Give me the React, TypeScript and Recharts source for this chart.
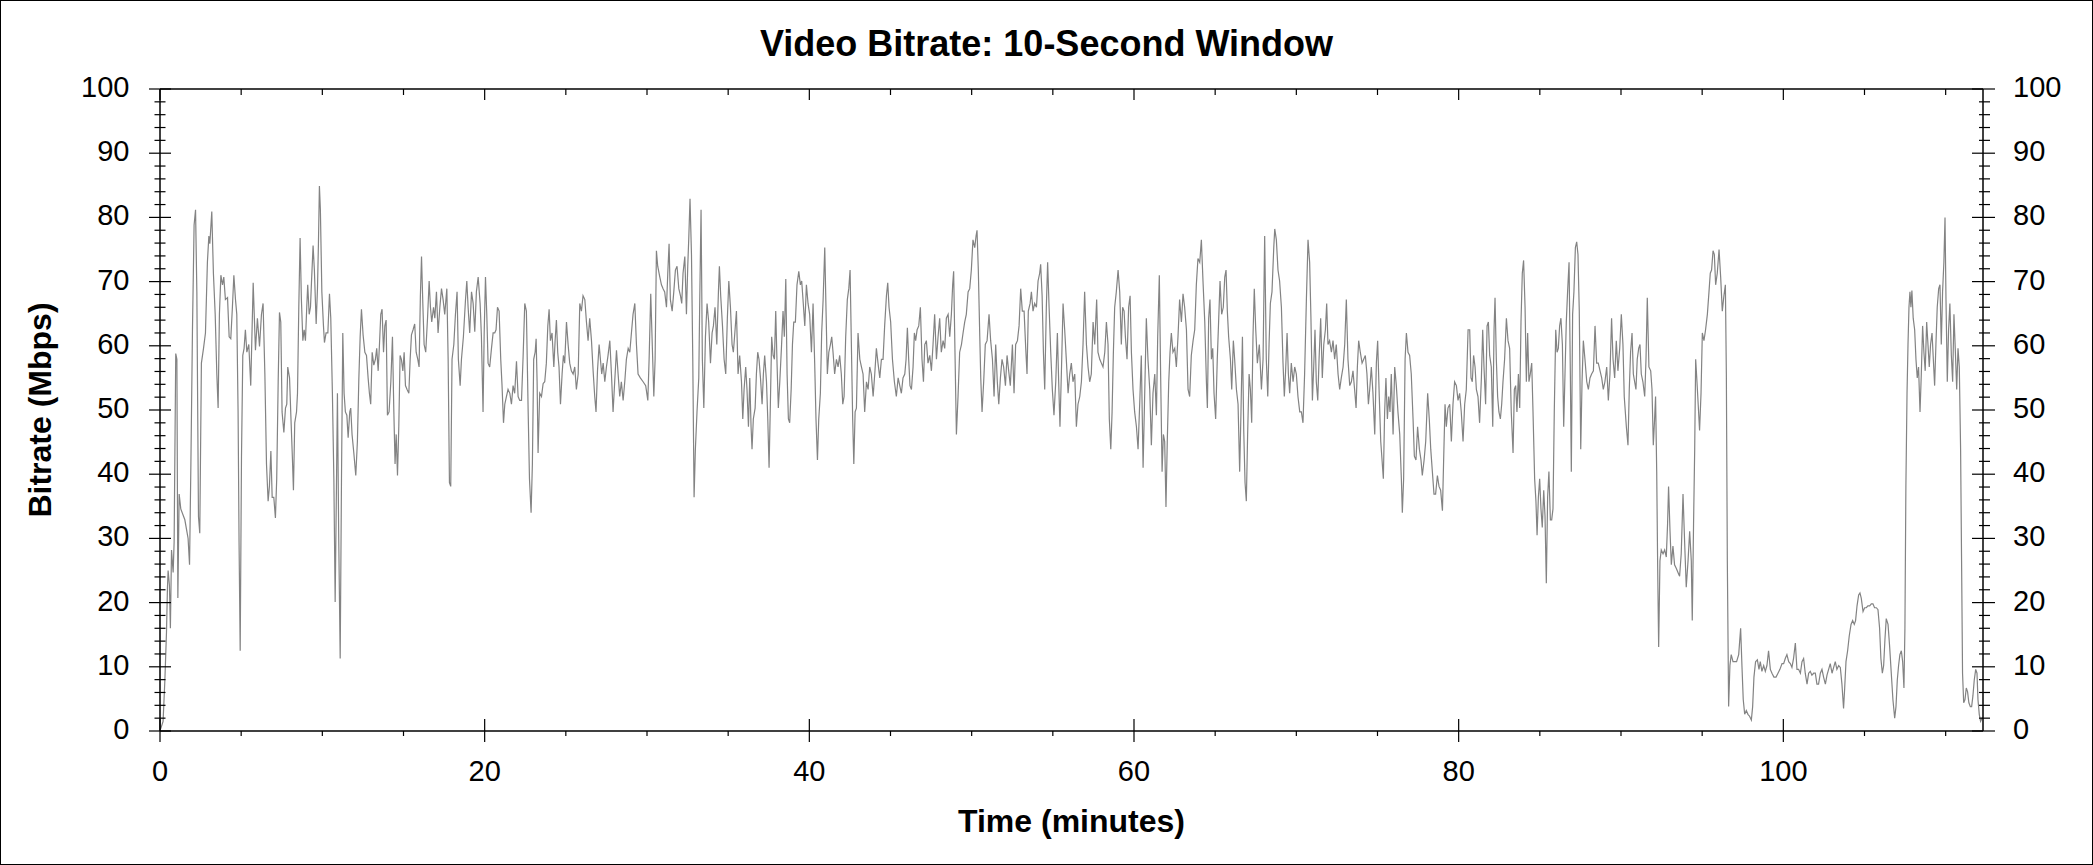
import React from 'react';
import { LineChart, Line, XAxis, YAxis } from 'recharts';

const X_TICKS = [0, 5, 10, 15, 20, 25, 30, 35, 40, 45, 50, 55, 60, 65, 70, 75, 80, 85, 90, 95, 100, 105, 110];
const Y_TICKS = [0, 2, 4, 6, 8, 10, 12, 14, 16, 18, 20, 22, 24, 26, 28, 30, 32, 34, 36, 38, 40, 42, 44, 46, 48, 50, 52, 54, 56, 58, 60, 62, 64, 66, 68, 70, 72, 74, 76, 78, 80, 82, 84, 86, 88, 90, 92, 94, 96, 98, 100];
const X_MAX = 112.3;

type Pt = [number, number]; // [minutes, Mbps]

const segA: Pt[] = [
  [0, 0.3], [0.05, 0.4], [0.19, 1.5], [0.3, 7.9], [0.4, 15.4], [0.46, 22.4], [0.5, 25], [0.58, 22.7], [0.64, 16], [0.71, 28.2],
  [0.81, 24.7], [0.87, 29.4], [0.97, 58.8], [1.04, 57.9], [1.1, 20.7], [1.18, 36.9], [1.28, 34.6], [1.53, 32.9], [1.73, 30], [1.82, 25.9],
  [1.9, 41], [2.0, 62.5], [2.1, 78.8], [2.19, 81.2], [2.27, 68.4], [2.37, 33.4], [2.45, 30.8], [2.55, 57.3], [2.68, 59.6], [2.8, 62],
  [2.92, 73], [3.01, 77.1], [3.07, 75.9], [3.19, 80.9], [3.29, 71.3], [3.4, 64.9], [3.5, 55.6], [3.58, 50.3], [3.66, 64.9], [3.75, 71],
  [3.85, 69.5], [3.93, 70.7], [4.03, 67.2], [4.16, 67.5], [4.26, 61.4], [4.36, 61.1], [4.46, 66], [4.55, 71], [4.65, 67.2], [4.73, 64.9],
  [4.81, 49.7], [4.87, 29.4], [4.94, 12.5], [5.02, 42.8], [5.1, 58.5], [5.18, 59.6], [5.26, 62.5], [5.35, 59], [5.47, 60.2], [5.59, 53.8],
  [5.74, 69.8], [5.88, 59.3], [6.0, 64.3], [6.13, 59.9], [6.25, 64.9], [6.35, 66.6], [6.46, 55.6], [6.56, 41.6], [6.66, 35.8], [6.74, 38.1],
  [6.83, 43.6], [6.91, 36.4], [7.01, 36.4], [7.11, 33.2], [7.19, 39.3], [7.28, 54.4], [7.36, 65.2], [7.44, 63.7], [7.52, 49.7], [7.63, 46.5],
  [7.73, 50.3], [7.81, 50.9], [7.87, 56.7], [7.98, 55], [8.06, 49.2], [8.16, 42.2], [8.22, 37.5], [8.3, 48], [8.41, 49.7], [8.47, 52.6],
  [8.55, 66], [8.63, 76.8], [8.71, 67.2], [8.8, 60.8], [8.88, 62.5], [8.96, 60.8], [9.04, 66], [9.1, 69.5], [9.19, 64.9], [9.27, 66],
  [9.33, 69.8], [9.43, 75.6], [9.51, 71.8], [9.62, 63.4], [9.7, 68.9], [9.76, 75.9], [9.82, 84.9], [9.88, 81.2], [9.97, 68.4], [10.07, 63.1],
  [10.13, 60.5], [10.23, 62], [10.34, 62], [10.44, 68.1], [10.52, 64.3], [10.62, 52.6], [10.71, 39.3], [10.79, 20.1], [10.87, 38.1], [10.93, 52.6],
  [11.01, 30], [11.1, 11.3], [11.18, 39.3], [11.26, 62], [11.34, 52.6], [11.42, 49.7], [11.51, 49.2], [11.59, 45.7], [11.69, 49.7], [11.75, 50.3],
  [11.83, 46.2], [11.94, 43.3], [12.06, 39.8], [12.16, 45.1], [12.25, 55], [12.33, 61.4], [12.41, 65.7], [12.51, 61.7], [12.62, 59], [12.72, 58.5],
  [12.82, 55], [12.9, 52.6], [12.98, 50.9], [13.07, 59], [13.17, 57], [13.27, 57.9], [13.35, 59.6], [13.44, 56.1], [13.52, 60.2], [13.6, 64.9],
  [13.68, 65.7], [13.77, 59], [13.85, 63.1], [13.93, 64], [14.01, 49.2], [14.11, 49.7], [14.22, 54.4], [14.32, 61.4], [14.4, 50.3], [14.48, 41.6],
  [14.55, 46.2], [14.63, 39.8], [14.71, 47.4], [14.79, 58.5], [14.87, 57.9], [14.96, 56.1], [15.04, 59], [15.12, 53.8], [15.22, 53.2], [15.33, 52.6],
  [15.41, 57.9], [15.49, 61.7], [15.59, 62.5], [15.69, 63.4], [15.78, 59], [15.88, 57.9], [15.96, 56.7], [16.04, 67.8], [16.11, 73.9], [16.19, 66.6],
  [16.27, 60.2], [16.37, 59], [16.48, 64.3], [16.58, 70.1], [16.66, 66], [16.74, 63.7], [16.85, 66], [16.93, 64.3], [17.03, 68.4], [17.13, 62],
  [17.24, 66], [17.34, 68.9], [17.44, 67.2], [17.54, 64.9], [17.67, 68.9], [17.75, 57.9], [17.83, 38.7], [17.91, 38.1], [17.99, 57.9], [18.1, 60.2],
  [18.2, 64.9], [18.3, 68.4], [18.38, 57.9], [18.49, 53.8], [18.57, 57.9], [18.69, 61.4], [18.82, 67.2], [18.9, 70.1], [18.98, 66], [19.08, 62],
  [19.19, 68.4], [19.29, 66.6], [19.39, 62.2], [19.49, 68.4], [19.6, 70.7], [19.72, 66.6], [19.8, 61.4], [19.9, 49.7], [19.97, 62], [20.05, 70.7],
  [20.13, 64.9], [20.21, 57.3], [20.31, 56.7], [20.42, 59.6], [20.52, 62], [20.62, 62], [20.7, 62.5], [20.79, 66], [20.89, 65.4], [20.99, 57.9],
  [21.07, 53.8], [21.16, 48], [21.24, 50.9], [21.34, 52.1], [21.44, 53.2], [21.55, 52.6], [21.65, 50.9], [21.75, 53.8], [21.85, 52.6], [21.96, 57.6],
  [22.06, 52.1], [22.16, 51.5], [22.27, 51.5], [22.37, 58.5], [22.47, 66.6], [22.57, 65.4], [22.68, 49.7], [22.76, 39.3],
];

const segB: Pt[] = [
  [22.86, 34], [22.94, 41.6], [23.02, 57.9], [23.11, 59], [23.17, 61.1], [23.23, 54.4], [23.29, 43.3], [23.39, 52.6], [23.5, 52.1], [23.6, 54.1],
  [23.7, 54.4], [23.8, 57.3], [23.89, 63.1], [23.97, 65.7], [24.05, 60.8], [24.15, 62], [24.26, 56.7], [24.34, 60.8], [24.42, 64], [24.5, 59],
  [24.58, 56.7], [24.67, 50.9], [24.77, 55.6], [24.85, 58.5], [24.93, 57.3], [25.04, 63.7], [25.14, 60.2], [25.24, 57.3], [25.34, 56.1], [25.45, 55.6],
  [25.55, 56.7], [25.65, 53.2], [25.76, 55.6], [25.86, 66.6], [25.96, 65.4], [26.06, 67.8], [26.17, 67.2], [26.27, 63.7], [26.37, 60.8], [26.47, 64.3],
  [26.58, 60.8], [26.68, 56.1], [26.78, 52.1], [26.86, 49.7], [26.95, 56.1], [27.05, 60.2], [27.13, 57.9], [27.21, 55.6], [27.3, 57.3], [27.4, 54.4],
  [27.5, 56.7], [27.6, 58.5], [27.71, 60.8], [27.81, 55.6], [27.91, 49.7], [28.01, 54.4], [28.12, 59.3], [28.22, 55.6], [28.32, 52.1], [28.42, 54.4],
  [28.53, 51.5], [28.63, 54.4], [28.73, 57.9], [28.84, 59.6], [28.94, 59], [29.04, 62], [29.14, 64.9], [29.25, 66.6], [29.35, 60.2], [29.45, 55.6],
  [29.59, 55], [29.76, 54.4], [29.92, 53.8], [30.05, 51.5], [30.13, 57.9], [30.23, 68.1], [30.31, 61.4], [30.42, 52.1], [30.5, 57.9], [30.58, 74.8],
  [30.66, 72.4], [30.79, 70.7], [30.89, 69.5], [30.99, 68.9], [31.09, 68.4], [31.2, 66], [31.28, 71.3], [31.36, 75.9], [31.44, 67.2], [31.55, 65.4],
  [31.65, 68.4], [31.75, 71.8], [31.85, 72.4], [31.96, 68.9], [32.06, 67.8], [32.14, 66.6], [32.22, 71.3], [32.33, 73.9], [32.43, 64.9], [32.51, 72.4],
  [32.57, 76.5], [32.65, 82.9], [32.74, 74.2], [32.82, 57.9], [32.9, 36.4], [32.98, 43.9], [33.08, 49.7], [33.19, 55], [33.25, 67.2], [33.33, 81.2],
  [33.41, 57.9], [33.5, 50.3], [33.6, 61.4], [33.7, 66.6], [33.8, 63.7], [33.91, 57.3], [34.01, 62], [34.09, 63.1], [34.19, 66], [34.3, 60.2],
  [34.4, 68.4], [34.46, 72.4], [34.54, 67.8], [34.65, 63.1], [34.75, 57.9], [34.85, 55.6], [34.95, 64.3], [35.04, 70.1], [35.14, 66], [35.24, 60.2],
  [35.32, 59], [35.41, 62], [35.51, 65.4], [35.61, 55.6], [35.71, 58.5], [35.82, 54.4], [35.9, 48.6], [35.98, 53.2], [36.08, 56.7], [36.16, 53.2],
  [36.25, 47.4], [36.33, 55], [36.41, 47.4], [36.47, 43.9], [36.55, 48.6], [36.66, 50.3], [36.74, 55.6], [36.82, 59], [36.9, 57.9], [36.99, 55],
  [37.09, 50.9], [37.17, 55.6], [37.25, 58.5], [37.36, 54.4], [37.44, 48.6], [37.52, 41], [37.6, 50.9], [37.68, 61.4], [37.77, 58.5], [37.85, 57.9],
  [37.93, 65.4], [38.01, 57.3], [38.09, 50.3], [38.18, 54.4], [38.28, 59.6], [38.38, 65.4], [38.46, 61.4], [38.55, 70.4], [38.63, 55.6], [38.71, 48.6],
  [38.79, 48], [38.88, 53.2], [38.96, 60.2], [39.04, 63.7], [39.14, 63.7], [39.24, 69.5], [39.35, 71.6], [39.45, 69.5], [39.53, 70.1], [39.61, 67.2],
  [39.72, 63.1], [39.82, 69.5], [39.92, 66.6], [40.02, 64.9], [40.13, 59], [40.23, 66.6], [40.33, 57.3], [40.41, 48.6], [40.5, 42.2], [40.58, 48.6],
  [40.68, 52.6], [40.76, 62], [40.85, 67.2], [40.95, 75.3], [41.03, 65.4], [41.11, 55.6], [41.2, 59], [41.3, 60.2], [41.38, 61.4], [41.46, 59],
  [41.56, 55.6], [41.67, 57.9], [41.77, 56.7], [41.87, 58.5], [41.97, 55.6], [42.06, 50.9], [42.14, 52.1], [42.24, 61.4], [42.34, 67.2], [42.43, 68.9],
  [42.51, 71.8], [42.59, 60.2], [42.67, 48.6], [42.74, 41.6], [42.82, 49.7], [42.9, 50.3], [43.0, 62], [43.11, 57.9], [43.21, 56.7], [43.31, 55.6],
  [43.41, 49.7], [43.52, 54.4], [43.62, 53.2], [43.72, 56.7], [43.82, 55.6], [43.93, 52.1], [44.03, 55.6], [44.13, 59.6], [44.23, 57.3], [44.34, 55],
  [44.44, 57.9], [44.54, 57.9], [44.64, 63.1], [44.75, 67.8], [44.83, 69.8], [44.91, 66], [45.01, 63.7], [45.12, 57.9], [45.24, 54.4],
];

const segC: Pt[] = [
  [45.36, 52.1], [45.47, 55], [45.57, 53.8], [45.67, 52.6], [45.77, 55], [45.88, 55.6], [45.96, 57.9], [46.04, 62.8], [46.12, 57.9], [46.2, 53.8],
  [46.29, 53.2], [46.39, 56.7], [46.47, 62], [46.55, 60.8], [46.64, 62.5], [46.74, 63.1], [46.84, 66], [46.94, 57.9], [47.03, 54.4], [47.11, 60.2],
  [47.21, 60.8], [47.31, 57.3], [47.42, 58.5], [47.52, 56.1], [47.62, 60.2], [47.72, 64.9], [47.83, 57.9], [47.93, 61.4], [48.03, 64.3], [48.13, 59],
  [48.24, 60.8], [48.34, 59.6], [48.44, 64.3], [48.55, 64.9], [48.65, 61.4], [48.75, 64.9], [48.83, 69.5], [48.89, 71.6], [48.98, 57.9], [49.06, 46.2],
  [49.16, 52.1], [49.26, 59], [49.37, 60.2], [49.47, 62], [49.57, 63.7], [49.67, 64.9], [49.78, 68.4], [49.88, 68.9], [49.98, 71.8], [50.08, 76.5],
  [50.19, 75.3], [50.27, 77.1], [50.33, 78], [50.41, 71.8], [50.5, 61.4], [50.56, 55], [50.64, 49.7], [50.74, 54.4], [50.84, 60.2], [50.95, 60.8],
  [51.07, 64.9], [51.17, 60.8], [51.28, 57.9], [51.38, 52.1], [51.48, 60.2], [51.58, 54.4], [51.67, 50.9], [51.77, 55], [51.87, 57.9], [51.97, 56.7],
  [52.08, 53.8], [52.18, 58.5], [52.28, 56.1], [52.38, 53.8], [52.51, 60.2], [52.61, 52.6], [52.71, 60.2], [52.82, 60.8], [52.92, 63.1], [53.02, 68.9],
  [53.12, 65.4], [53.23, 65.4], [53.33, 59.6], [53.41, 55.6], [53.49, 65.4], [53.6, 66.6], [53.68, 68.4], [53.78, 65.4], [53.88, 66.6], [53.99, 66],
  [54.09, 70.1], [54.19, 71.3], [54.25, 72.7], [54.34, 67.8], [54.42, 59], [54.5, 53.2], [54.6, 66], [54.68, 73], [54.77, 66], [54.87, 59],
  [54.97, 53.2], [55.07, 49.2], [55.18, 54.4], [55.28, 62], [55.36, 54.4], [55.44, 47.4], [55.53, 56.1], [55.63, 66.6], [55.73, 62.5], [55.83, 57.9],
  [55.94, 52.6], [56.04, 55.6], [56.14, 57.3], [56.24, 54.4], [56.35, 55.6], [56.45, 47.4], [56.55, 50.9], [56.66, 52.1], [56.76, 54.4], [56.86, 60.2],
  [56.96, 68.4], [57.07, 60.2], [57.17, 56.7], [57.27, 54.4], [57.37, 55.6], [57.48, 63.7], [57.58, 60.2], [57.7, 67.2], [57.78, 59], [57.89, 57.9],
  [57.99, 57.3], [58.09, 56.7], [58.2, 59], [58.3, 63.7], [58.4, 60.2], [58.48, 48.6], [58.57, 43.9], [58.65, 49.7], [58.73, 59], [58.81, 66],
  [58.91, 68.4], [59.02, 71.8], [59.12, 68.4], [59.22, 60.2], [59.3, 66], [59.39, 65.4], [59.47, 61.4], [59.57, 57.9], [59.67, 66], [59.76, 67.8],
  [59.84, 59], [59.94, 53.2], [60.04, 49.7], [60.15, 47.4], [60.25, 43.9], [60.35, 50.9], [60.45, 58.5], [60.56, 41], [60.66, 52.6], [60.76, 64.3],
  [60.86, 57.9], [60.97, 53.2], [61.07, 44.5], [61.17, 52.6], [61.28, 55.6], [61.38, 49.2], [61.46, 61.4], [61.56, 71], [61.64, 55.6], [61.73, 40.4],
  [61.81, 46.2], [61.89, 45.1], [61.97, 34.9], [62.05, 45.1], [62.14, 54.4], [62.22, 59], [62.3, 62], [62.4, 59], [62.51, 59.6], [62.61, 56.7],
  [62.71, 61.4], [62.81, 67.2], [62.92, 63.7], [63.02, 68.1], [63.12, 66], [63.23, 62.5], [63.33, 53.2], [63.43, 52.1], [63.53, 58.5], [63.64, 60.8],
  [63.74, 62.5], [63.84, 69.5], [63.94, 73.6], [64.05, 73], [64.15, 76.5], [64.25, 70.1], [64.36, 63.7], [64.46, 54.4], [64.52, 50.3], [64.6, 64.3],
  [64.68, 67.2], [64.77, 57.9], [64.85, 59.6], [64.93, 52.6], [65.03, 48.6], [65.13, 57.9], [65.22, 64.3], [65.3, 70.1], [65.4, 64.9], [65.5, 66],
  [65.59, 70.7], [65.67, 71.8], [65.75, 65.4], [65.83, 61.4], [65.94, 57.9], [66.02, 53.2], [66.12, 60.8], [66.2, 57.9], [66.31, 53.2], [66.41, 50.9],
  [66.51, 40.4], [66.59, 49.7], [66.68, 61.4], [66.76, 46.8], [66.84, 38.7], [66.92, 35.8], [67.0, 46.2], [67.09, 55.6], [67.17, 53.2], [67.25, 48],
  [67.33, 61.4], [67.41, 68.9], [67.5, 62.5], [67.6, 57.3], [67.72, 60.2],
];

const segD: Pt[] = [
  [67.85, 53.2], [67.95, 57.9], [68.05, 77.1], [68.15, 57.9], [68.24, 52.1], [68.32, 60.2], [68.4, 66.6], [68.5, 68.4], [68.61, 75.3], [68.67, 78.2],
  [68.77, 76.5], [68.87, 71.8], [68.97, 70.1], [69.08, 66], [69.18, 57.3], [69.26, 52.1], [69.34, 56.1], [69.43, 62], [69.51, 55.6], [69.59, 52.6],
  [69.69, 57.3], [69.8, 54.4], [69.9, 56.7], [70.0, 55.6], [70.1, 52.1], [70.21, 49.7], [70.31, 49.7], [70.41, 48], [70.51, 55.6], [70.62, 67.2],
  [70.72, 76.5], [70.82, 73], [70.9, 64.3], [70.99, 51.5], [71.07, 56.7], [71.15, 62.5], [71.23, 54.4], [71.32, 51.5], [71.4, 57.9], [71.5, 64.3],
  [71.6, 55], [71.69, 60.2], [71.79, 62.5], [71.87, 66.6], [71.95, 60.2], [72.05, 60.8], [72.16, 59], [72.26, 60.8], [72.36, 57.9], [72.46, 60.2],
  [72.57, 55.6], [72.67, 53.2], [72.77, 55], [72.88, 56.7], [72.98, 60.2], [73.08, 67.2], [73.18, 57.9], [73.29, 53.8], [73.39, 54.4], [73.49, 56.1],
  [73.59, 53.2], [73.68, 50.3], [73.76, 56.7], [73.84, 60.8], [73.94, 59], [74.05, 57.3], [74.15, 57.9], [74.25, 58.5], [74.35, 55.6], [74.44, 50.9],
  [74.52, 53.2], [74.62, 56.7], [74.72, 52.6], [74.83, 46.2], [74.93, 57.3], [75.01, 60.8], [75.11, 52.1], [75.2, 45.1], [75.28, 42.2], [75.36, 39.3],
  [75.44, 49.7], [75.52, 55], [75.61, 48.6], [75.69, 52.1], [75.77, 49.7], [75.85, 55.6], [75.96, 46.2], [76.06, 56.7], [76.16, 53.8], [76.26, 49.7],
  [76.37, 46.2], [76.47, 39.3], [76.53, 34], [76.61, 39.3], [76.7, 57.9], [76.78, 62], [76.88, 59], [76.98, 58.5], [77.08, 55.6], [77.19, 48.6],
  [77.27, 42.8], [77.37, 42.2], [77.47, 47.4], [77.58, 43.9], [77.68, 42.2], [77.76, 39.8], [77.87, 42.2], [77.97, 45.1], [78.09, 52.6], [78.19, 48.6],
  [78.28, 43.9], [78.38, 40.4], [78.48, 36.9], [78.58, 36.9], [78.69, 39.8], [78.79, 38.1], [78.89, 37.5], [79.0, 34.3], [79.08, 42.8], [79.16, 50.9],
  [79.24, 47.4], [79.34, 50.3], [79.45, 50.9], [79.55, 45.1], [79.65, 50.9], [79.75, 54.4], [79.86, 53.8], [79.96, 51.5], [80.06, 52.6], [80.16, 49.7],
  [80.27, 45.1], [80.37, 50.9], [80.47, 53.2], [80.58, 62.5], [80.68, 62.5], [80.76, 55], [80.84, 54.4], [80.92, 58.5], [81.01, 56.7], [81.09, 53.2],
  [81.19, 52.1], [81.29, 48], [81.4, 55], [81.48, 62.5], [81.56, 56.7], [81.66, 50.9], [81.75, 63.1], [81.83, 63.7], [81.91, 58.5], [82.01, 56.7],
  [82.1, 47.4], [82.18, 62.5], [82.24, 67.5], [82.32, 57.9], [82.4, 52.1], [82.48, 49.7], [82.57, 48.6], [82.65, 50.9], [82.73, 54.4], [82.83, 57.9],
  [82.94, 64.3], [83.04, 60.8], [83.14, 59.6], [83.24, 49.7], [83.35, 43.3], [83.43, 53.2], [83.51, 53.8], [83.59, 49.7], [83.68, 55.6], [83.76, 50.3],
  [83.84, 63.7], [83.92, 71.3], [84.0, 73.3], [84.09, 66], [84.17, 54.4], [84.25, 62], [84.33, 54.4], [84.41, 55.6], [84.5, 57.3], [84.58, 49.7],
  [84.68, 39.3], [84.76, 35.8], [84.83, 30.5], [84.91, 36.4], [84.99, 39.3], [85.07, 34.6], [85.15, 31.7], [85.24, 37.5], [85.32, 33.4], [85.4, 23],
  [85.48, 36.4], [85.56, 40.4], [85.65, 32.9], [85.73, 32.9], [85.81, 34.6], [85.89, 49.7], [85.98, 62.5], [86.06, 59], [86.14, 59.6], [86.22, 63.1],
  [86.3, 64.3], [86.39, 60.2], [86.47, 47.4], [86.55, 55.6], [86.63, 63.7], [86.71, 68.4], [86.8, 73], [86.88, 55.6], [86.94, 40.4], [87.02, 64.9],
  [87.1, 68.4], [87.19, 75.3], [87.27, 76.2], [87.35, 74.2], [87.43, 65.4], [87.52, 43.9], [87.6, 54.4], [87.68, 60.8], [87.78, 57.9], [87.89, 54.4],
  [87.99, 53.2], [88.09, 55], [88.19, 55.6], [88.3, 56.1], [88.4, 63.1], [88.5, 57.3], [88.6, 57.3], [88.71, 56.1], [88.81, 55], [88.91, 53.2],
  [89.01, 54.4], [89.12, 56.7], [89.22, 51.5], [89.32, 55.6], [89.42, 64.3], [89.51, 57.9], [89.61, 55], [89.71, 60.8], [89.81, 56.1], [89.92, 59.6],
  [90.02, 64.9], [90.12, 60.2], [90.2, 52.1],
];

const segE: Pt[] = [
  [90.33, 47.4], [90.43, 44.5], [90.51, 53.2], [90.59, 59], [90.68, 62], [90.76, 55.6], [90.84, 54.4], [90.92, 53.2], [91.0, 57.9], [91.09, 59.6],
  [91.17, 60.2], [91.25, 55.6], [91.35, 54.4], [91.46, 52.1], [91.54, 57.9], [91.62, 67.5], [91.72, 56.7], [91.83, 56.1], [91.91, 53.2], [91.99, 44.5],
  [92.07, 48.6], [92.13, 52.1], [92.2, 40.4], [92.26, 25.3], [92.32, 13.1], [92.4, 26.5], [92.48, 28.2], [92.59, 27.6], [92.69, 28.2], [92.79, 27.1],
  [92.87, 32.3], [92.93, 38.1], [93.02, 31.1], [93.1, 25.9], [93.2, 28.8], [93.3, 25.9], [93.41, 25.3], [93.51, 24.7], [93.61, 24.1], [93.71, 27.6],
  [93.82, 36.9], [93.92, 29.4], [94.02, 22.4], [94.13, 26.5], [94.23, 31.1], [94.33, 26.5], [94.39, 17.2], [94.47, 32.3], [94.54, 43.9], [94.6, 57.9],
  [94.68, 54.4], [94.78, 49.7], [94.84, 46.8], [94.93, 52.6], [95.01, 62], [95.11, 60.8], [95.21, 62.5], [95.32, 64.9], [95.42, 68.4], [95.5, 71.3],
  [95.58, 71.8], [95.67, 74.8], [95.75, 74.2], [95.83, 69.5], [95.93, 71.3], [96.04, 75], [96.14, 70.7], [96.24, 65.4], [96.34, 67.8], [96.43, 69.5],
  [96.49, 55.6], [96.55, 26.5], [96.63, 3.8], [96.71, 10.2], [96.79, 11.9], [96.9, 10.8], [97.0, 10.8], [97.12, 10.8], [97.25, 11.9], [97.37, 16],
  [97.45, 10.2], [97.53, 4.9], [97.62, 2.6], [97.72, 3.2], [97.82, 2.6], [97.92, 2.3], [98.03, 1.7], [98.11, 3.8], [98.19, 8.4], [98.29, 10.8],
  [98.4, 11.1], [98.5, 9.6], [98.58, 10.8], [98.68, 9.3], [98.79, 10.2], [98.89, 9.3], [98.99, 10.2], [99.09, 12.5], [99.2, 9.6], [99.3, 9],
  [99.42, 8.4], [99.55, 8.4], [99.67, 9], [99.79, 9.6], [99.92, 10.5], [100.02, 10.5], [100.12, 11.3], [100.22, 11.9], [100.33, 10.8], [100.43, 10.5],
  [100.53, 9.9], [100.63, 11.3], [100.74, 13.7], [100.84, 9.6], [100.94, 9.6], [101.05, 9], [101.15, 10.8], [101.25, 11.3], [101.35, 9], [101.46, 7.3],
  [101.56, 9], [101.66, 9.3], [101.76, 8.7], [101.87, 9], [101.97, 9], [102.07, 7.3], [102.17, 7.3], [102.28, 9], [102.38, 9.6], [102.48, 8.4],
  [102.59, 7.3], [102.69, 8.7], [102.79, 9.6], [102.89, 10.5], [103.0, 9], [103.1, 9.9], [103.2, 10.8], [103.3, 9.6], [103.41, 10.2], [103.51, 9.9],
  [103.61, 7.3], [103.71, 3.5], [103.78, 6.7], [103.86, 10.8], [103.96, 12.5], [104.06, 14.8], [104.17, 16.6], [104.27, 17.2], [104.37, 16.6], [104.45, 17.2],
  [104.54, 19.5], [104.64, 21.2], [104.72, 21.5], [104.8, 20.7], [104.91, 18.6], [105.01, 19.2], [105.11, 19.2], [105.21, 19.5], [105.32, 19.5], [105.42, 19.8],
  [105.52, 19.8], [105.62, 19.2], [105.73, 19.2], [105.83, 18.9], [105.93, 16], [106.01, 11.3], [106.1, 9], [106.18, 10.2], [106.26, 14.3], [106.34, 17.5],
  [106.45, 16.6], [106.55, 13.1], [106.65, 9], [106.75, 4.9], [106.86, 2], [106.94, 3.8], [107.02, 7.9], [107.1, 10.2], [107.18, 11.9], [107.27, 12.5],
  [107.35, 10.8], [107.43, 6.7], [107.49, 16], [107.55, 38.1], [107.62, 52.6], [107.68, 60.2], [107.74, 66], [107.8, 68.4], [107.86, 66], [107.92, 68.6],
  [108.0, 64.3], [108.09, 62.5], [108.17, 57.9], [108.25, 55], [108.33, 56.7], [108.42, 49.7], [108.5, 55.6], [108.58, 63.1], [108.66, 59], [108.74, 56.1],
  [108.83, 63.7], [108.91, 60.2], [108.99, 56.7], [109.07, 60.2], [109.16, 62], [109.24, 57.9], [109.32, 53.8], [109.4, 60.2], [109.48, 66], [109.57, 68.9],
  [109.65, 69.5], [109.73, 60.2], [109.81, 68.4], [109.89, 73], [109.96, 80], [110.02, 67.2], [110.1, 54.4], [110.18, 62.5], [110.26, 66.6], [110.35, 58.5],
  [110.43, 54.4], [110.51, 64.9], [110.59, 59.6], [110.68, 53.2], [110.76, 59.6], [110.84, 56.7], [110.92, 43.9], [110.98, 26.5], [111.04, 9], [111.11, 4.4],
  [111.19, 4.9], [111.27, 6.7], [111.35, 6.1], [111.43, 4.4], [111.52, 3.8], [111.6, 3.8], [111.68, 5.5], [111.76, 7.9], [111.85, 9.6], [111.93, 9],
  [111.99, 4.9], [112.07, 2.6], [112.15, 1.5], [112.24, 2], [112.3, 2],
];

const data = [...segA, ...segB, ...segC, ...segD, ...segE].map(([t, mbps]) => ({ t, mbps }));

const FONT = "'Liberation Sans', Arial, Helvetica, sans-serif";
const INK = '#000000';

function BottomTick(props: any) {
  const { x, y, payload } = props;
  const v = payload.value as number;
  const major = v % 20 === 0;
  return (
    <g>
      {major ? (
        <line x1={x} y1={y - 12} x2={x} y2={y + 11} stroke={INK} strokeWidth={1.2} />
      ) : (
        <line x1={x} y1={y} x2={x} y2={y + 5} stroke={INK} strokeWidth={1.2} />
      )}
      {major && (
        <text x={x} y={y + 50} textAnchor="middle" fontFamily={FONT} fontSize={29} fill={INK}>
          {v}
        </text>
      )}
    </g>
  );
}

function TopTick(props: any) {
  const { x, y, payload } = props;
  const v = payload.value as number;
  const major = v % 20 === 0;
  return <line x1={x} y1={y} x2={x} y2={y + (major ? 11 : 6)} stroke={INK} strokeWidth={1.2} />;
}

function LeftTick(props: any) {
  const { x, y, payload } = props;
  const v = payload.value as number;
  const major = v % 10 === 0;
  return (
    <g>
      {major ? (
        <line x1={x - 11} y1={y} x2={x + 11} y2={y} stroke={INK} strokeWidth={1.2} />
      ) : (
        <line x1={x - 5.5} y1={y} x2={x + 5.5} y2={y} stroke={INK} strokeWidth={1.2} />
      )}
      {major && (
        <text x={x - 30.5} y={y + 8} textAnchor="end" fontFamily={FONT} fontSize={29} fill={INK}>
          {v}
        </text>
      )}
    </g>
  );
}

function RightTick(props: any) {
  const { x, y, payload } = props;
  const v = payload.value as number;
  const major = v % 10 === 0;
  return (
    <g>
      {major ? (
        <line x1={x - 11} y1={y} x2={x + 12} y2={y} stroke={INK} strokeWidth={1.2} />
      ) : (
        <line x1={x - 4} y1={y} x2={x + 7} y2={y} stroke={INK} strokeWidth={1.2} />
      )}
      {major && (
        <text x={x + 30} y={y + 8} textAnchor="start" fontFamily={FONT} fontSize={29} fill={INK}>
          {v}
        </text>
      )}
    </g>
  );
}

export default function App() {
  const W = 2093;
  const H = 865;
  return (
    <div style={{ position: 'absolute', left: 0, top: 0, width: W, height: H, background: '#fff' }}>
      <LineChart width={W} height={H} data={data} margin={{ top: 0, right: 0, bottom: 0, left: 0 }}>
        <XAxis
          dataKey="t"
          type="number"
          domain={[0, X_MAX]}
          ticks={X_TICKS}
          interval={0}
          height={134}
          tickSize={0}
          tickMargin={0}
          tickLine={false}
          axisLine={{ stroke: INK, strokeWidth: 1.5 }}
          tick={BottomTick}
          allowDataOverflow
        />
        <XAxis
          xAxisId="top"
          orientation="top"
          dataKey="t"
          type="number"
          domain={[0, X_MAX]}
          ticks={X_TICKS}
          interval={0}
          height={89}
          tickSize={0}
          tickMargin={0}
          tickLine={false}
          axisLine={{ stroke: INK, strokeWidth: 1.5 }}
          tick={TopTick}
          allowDataOverflow
        />
        <YAxis
          type="number"
          domain={[0, 100]}
          ticks={Y_TICKS}
          interval={0}
          width={160}
          tickSize={0}
          tickMargin={0}
          tickLine={false}
          axisLine={{ stroke: INK, strokeWidth: 1.5 }}
          tick={LeftTick}
          allowDataOverflow
        />
        <YAxis
          yAxisId="right"
          orientation="right"
          type="number"
          domain={[0, 100]}
          ticks={Y_TICKS}
          interval={0}
          width={110}
          tickSize={0}
          tickMargin={0}
          tickLine={false}
          axisLine={{ stroke: INK, strokeWidth: 1.5 }}
          tick={RightTick}
          allowDataOverflow
        />
        <Line
          type="linear"
          dataKey="mbps"
          stroke="#838383"
          strokeWidth={1.2}
          dot={false}
          activeDot={false}
          isAnimationActive={false}
        />
      </LineChart>
      <svg
        width={W}
        height={H}
        style={{ position: 'absolute', left: 0, top: 0, pointerEvents: 'none' }}
      >
        <text x={1046.5} y={56} textAnchor="middle" fontFamily={FONT} fontWeight="bold" fontSize={36} fill={INK}>
          Video Bitrate: 10-Second Window
        </text>
        <text x={1071.5} y={832} textAnchor="middle" fontFamily={FONT} fontWeight="bold" fontSize={32} fill={INK}>
          Time (minutes)
        </text>
        <text
          transform="translate(51 410) rotate(-90)"
          textAnchor="middle"
          fontFamily={FONT}
          fontWeight="bold"
          fontSize={32}
          fill={INK}
        >
          Bitrate (Mbps)
        </text>
        <rect x={0.5} y={0.5} width={W - 1} height={H - 1} fill="none" stroke={INK} strokeWidth={1} />
      </svg>
    </div>
  );
}
